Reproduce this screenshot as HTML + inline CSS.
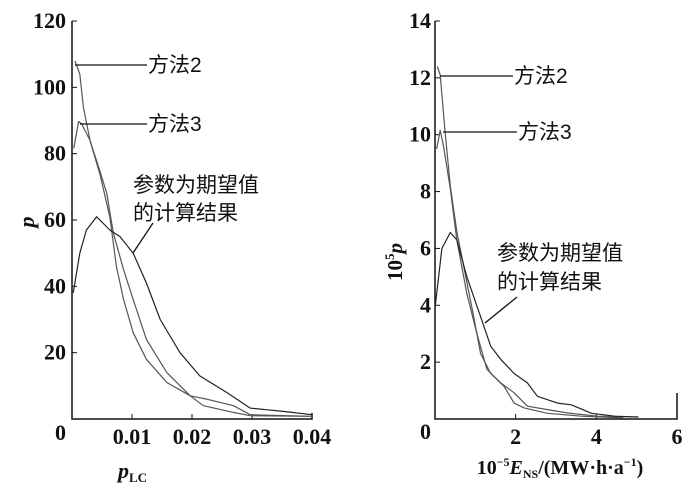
<!DOCTYPE html>
<html><head><meta charset="utf-8"><style>
body{margin:0;background:#fff}
svg{display:block}
text{font-family:"Liberation Serif","Noto Serif CJK SC",serif;fill:#111}
.cj{font-family:"Liberation Sans","Noto Sans CJK SC",sans-serif;font-size:21px}
.tk{font-size:22px;font-weight:bold}
</style></head><body>
<svg id="c" width="700" height="497" viewBox="0 0 700 497">
<g id="L"></g>
<g id="R"></g>
</svg>
<script>
// Left panel data (x = p_LC, y = p)
const leftXTicks=[0.01,0.02,0.03,0.04];
const leftYTicks=[0,20,40,60,80,100,120];
const lM2x=[0.0005,0.0013,0.0019,0.003,0.0047,0.0063,0.0074,0.0086,0.0102,0.0124,0.0158,0.0197,0.0219,0.0269,0.0297,0.04];
const lM2y=[108,104,94,84,73.5,61,46,36,26,18,11,7,4,2,1,0.8];
const lM3x=[0.0003,0.0011,0.0016,0.003,0.0047,0.0058,0.0069,0.0086,0.0102,0.0124,0.0158,0.0197,0.0224,0.0269,0.0297,0.04];
const lM3y=[81.6,89.7,89,84,74.5,68,56,45,36,24,14,7,6,4,1.3,0.8];
const lEx=[0.0002,0.0013,0.0024,0.0041,0.0063,0.008,0.0102,0.0124,0.0147,0.018,0.0213,0.0258,0.0297,0.0324,0.0352,0.04];
const lEy=[38,50,57,61,57,55,50,41,30,20,13,8,3.3,2.8,2.3,1.3];
// Right panel data (x = 1e-5 ENS, y = 1e5 p)
const rightXTicks=[2,4,6];
const rightYTicks=[0,2,4,6,8,10,12,14];
const rM2x=[0.06,0.13,0.25,0.38,0.54,0.79,0.96,1.13,1.38,1.71,1.96,2.21,2.79,3.63,4.67];
const rM2y=[12.4,12.1,10.1,8.2,6.6,4.8,3.6,2.3,1.6,1.15,0.56,0.39,0.2,0.1,0.04];
const rM3x=[0.04,0.13,0.21,0.38,0.54,0.79,1.04,1.29,1.63,1.96,2.29,2.79,3.29,4.04,5.04];
const rM3y=[9.5,10.15,9.6,8.1,6.3,4.4,3.0,1.74,1.27,0.92,0.45,0.33,0.21,0.1,0.07];
const rEx=[0,0.17,0.38,0.54,0.79,1.13,1.38,1.63,1.96,2.29,2.54,3.04,3.38,3.88,4.46,5.04];
const rEy=[3.9,6.0,6.56,6.3,5.0,3.6,2.56,2.1,1.6,1.27,0.8,0.56,0.5,0.2,0.1,0.07];

const NS='http://www.w3.org/2000/svg';
function mk(p,tag,a,txt){const e=document.createElementNS(NS,tag);for(const k in a)e.setAttribute(k,a[k]);if(txt!==undefined)e.textContent=txt;p.appendChild(e);return e;}
function pathD(xs,ys,sx,sy){return xs.map((v,i)=>(i?'L':'M')+sx(v).toFixed(1)+','+sy(ys[i]).toFixed(1)).join('');}

// LEFT
const L=document.getElementById('L');
const lx0=72,lx1=312,ly0=419,ly1=21;
const lsx=v=>lx0+v/0.04*(lx1-lx0), lsy=v=>ly0-v/120*(ly0-ly1);
let e;
e=mk(L,'path',{d:`M${lx0},${ly1}V${ly0}H${lx1}V${ly0-6}`,fill:'none',stroke:'#111','stroke-width':1.5});

leftYTicks.forEach(t=>{mk(L,'line',{x1:lx0,x2:lx0+5,y1:lsy(t),y2:lsy(t),stroke:'#111'});
 e=mk(L,'text',{x:lx0-6,y:lsy(t)+7+(t===0?14:0),'text-anchor':'end',class:'tk'},t);
 });
leftXTicks.forEach(t=>{mk(L,'line',{x1:lsx(t),x2:lsx(t),y1:ly0,y2:ly0-5,stroke:'#111'});
 e=mk(L,'text',{x:lsx(t),y:ly0+25,'text-anchor':'middle',class:'tk'},t);
 });
[[lM2x,lM2y,'#555','left-method2-line'],[lM3x,lM3y,'#555','left-method3-line'],[lEx,lEy,'#222','left-expected-line']].forEach(s=>{
 e=mk(L,'path',{d:pathD(s[0],s[1],lsx,lsy),fill:'none',stroke:s[2],'stroke-width':1.2,'stroke-linejoin':'round'});
 });
mk(L,'line',{x1:75,y1:65,x2:147,y2:65,stroke:'#111','stroke-width':1.3});
mk(L,'line',{x1:80,y1:124,x2:147,y2:124,stroke:'#111','stroke-width':1.3});
mk(L,'line',{x1:153,y1:223,x2:133,y2:253,stroke:'#111','stroke-width':1.3});
e=mk(L,'text',{x:148,y:72,class:'cj'},'方法2');
e=mk(L,'text',{x:148,y:131,class:'cj'},'方法3');
e=mk(L,'text',{x:133,y:192,class:'cj'},'参数为期望值');
e=mk(L,'text',{x:133,y:220,class:'cj'},'的计算结果');
e=mk(L,'text',{x:0,y:0,transform:'translate(34,222) rotate(-90)','text-anchor':'middle','font-size':22,'font-weight':'bold','font-style':'italic'},'p');

e=mk(L,'text',{x:118,y:478,'font-size':22,'font-weight':'bold','font-style':'italic'});

e.innerHTML='p<tspan font-size="13" font-style="normal" dy="4">LC</tspan>';

// RIGHT
const R=document.getElementById('R');
const rx0=435,rx1=677,ry0=419,ry1=21;
const rsx=v=>rx0+v/6*(rx1-rx0), rsy=v=>ry0-v/14*(ry0-ry1);
e=mk(R,'path',{d:`M${rx0},${ry1}V${ry0}H${rx1}V${ry0-26}`,fill:'none',stroke:'#111','stroke-width':1.5});

rightYTicks.forEach(t=>{mk(R,'line',{x1:rx0,x2:rx0+5,y1:rsy(t),y2:rsy(t),stroke:'#111'});
 e=mk(R,'text',{x:rx0-4,y:rsy(t)+7+(t===0?13:0),'text-anchor':'end',class:'tk'},t);
 });
rightXTicks.forEach(t=>{mk(R,'line',{x1:rsx(t),x2:rsx(t),y1:ry0,y2:ry0-5,stroke:'#111'});
 e=mk(R,'text',{x:rsx(t),y:ry0+25,'text-anchor':'middle',class:'tk'},t);
 });
[[rM2x,rM2y,'#555','right-method2-line'],[rM3x,rM3y,'#555','right-method3-line'],[rEx,rEy,'#222','right-expected-line']].forEach(s=>{
 e=mk(R,'path',{d:pathD(s[0],s[1],rsx,rsy),fill:'none',stroke:s[2],'stroke-width':1.2,'stroke-linejoin':'round'});
 });
mk(R,'line',{x1:440,y1:76,x2:513,y2:76,stroke:'#111','stroke-width':1.3});
mk(R,'line',{x1:443,y1:132,x2:517,y2:132,stroke:'#111','stroke-width':1.3});
mk(R,'line',{x1:517,y1:297,x2:485,y2:323,stroke:'#111','stroke-width':1.3});
e=mk(R,'text',{x:514,y:83,class:'cj'},'方法2');
e=mk(R,'text',{x:518,y:139,class:'cj'},'方法3');
e=mk(R,'text',{x:497,y:260,class:'cj'},'参数为期望值');
e=mk(R,'text',{x:497,y:289,class:'cj'},'的计算结果');
e=mk(R,'text',{x:0,y:0,transform:'translate(402,262) rotate(-90)','text-anchor':'middle','font-size':21,'font-weight':'bold'});

e.innerHTML='10<tspan font-size="13" dy="-8">5</tspan><tspan dy="8" font-style="italic">p</tspan>';
e=mk(R,'text',{x:560,y:474,'text-anchor':'middle','font-size':20,'font-weight':'bold'});

e.innerHTML='10<tspan font-size="12" dy="-8">−5</tspan><tspan dy="8" font-style="italic">E</tspan><tspan font-size="12" dy="4">NS</tspan><tspan dy="-4">/(MW·h·a</tspan><tspan font-size="12" dy="-8">−1</tspan><tspan dy="8">)</tspan>';
</script>
</body></html>
